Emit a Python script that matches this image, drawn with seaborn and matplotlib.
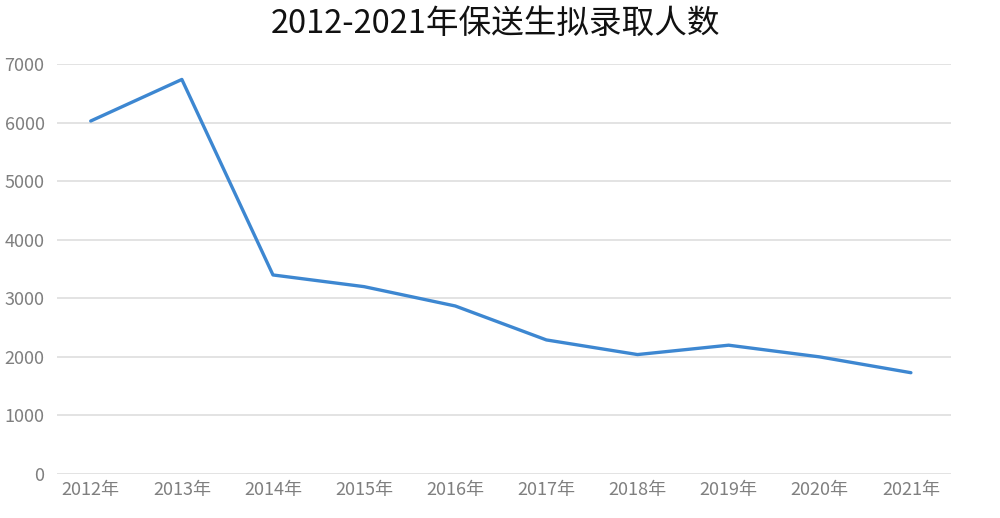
import matplotlib
matplotlib.use("Agg")
import matplotlib.pyplot as plt
import seaborn as sns
import pandas as pd

# Data
years = ["2012年", "2013年", "2014年", "2015年", "2016年",
         "2017年", "2018年", "2019年", "2020年", "2021年"]
admitted = [6030, 6740, 3400, 3200, 2870, 2290, 2040, 2200, 2000, 1730]
y_ticks = [0, 1000, 2000, 3000, 4000, 5000, 6000, 7000]

df = pd.DataFrame({"year": years, "admitted": admitted})

sns.set_style("white")
plt.rcParams['font.family'] = ['Noto Sans CJK SC', 'DejaVu Sans']

fig = plt.figure(figsize=(10, 5.18), dpi=100)
ax = fig.add_axes([0.057, 0.085, 0.894, 0.791])

sns.lineplot(data=df, x="year", y="admitted", ax=ax, color="#3d87d1",
             linewidth=2.4, sort=False)

ax.set_ylim(0, 7000)
ax.set_xlim(-0.37, 9.44)
ax.set_yticks(y_ticks)
ax.set_yticklabels([str(t) for t in y_ticks])
ax.yaxis.grid(True, color="#e0e0e0", linewidth=1.3)
ax.xaxis.grid(False)
for s in ax.spines.values():
    s.set_visible(False)
ax.tick_params(axis="both", length=0, labelsize=13, colors="#7f7f7f")
ax.tick_params(axis="y", pad=9)
ax.tick_params(axis="x", pad=5)
ax.set_xlabel("")
ax.set_ylabel("")

fig.suptitle("2012-2021年保送生拟录取人数", fontsize=23.5, color="#111111",
             x=0.495, y=0.985)

fig.savefig("out.png", dpi=100)
